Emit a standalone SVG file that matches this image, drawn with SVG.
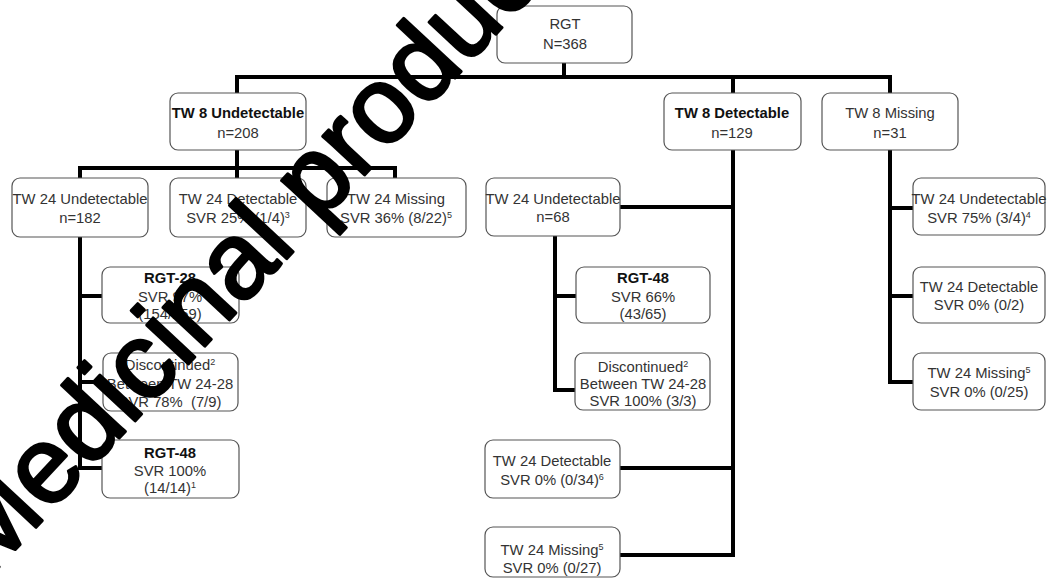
<svg xmlns="http://www.w3.org/2000/svg" width="1047" height="580" viewBox="0 0 1047 580">
<style>
.box{fill:#fff;stroke:#555;stroke-width:1.2}
.t{font-family:"Liberation Sans",Arial,sans-serif;font-size:14.8px;fill:#333;text-anchor:middle}
.b{font-weight:bold;fill:#111}
.sup{font-size:9px}
.c{stroke:#000;stroke-width:4;fill:none;stroke-linecap:square;stroke-linejoin:miter}
.wm{font-family:"Liberation Sans",Arial,sans-serif;font-size:108px;fill:#000;stroke:#000;stroke-width:3;stroke-linejoin:round}
</style>
<rect width="1047" height="580" fill="#fff"/>
<g id="connectors">
<path class="c" d="M564 63V77M237 77H890M237 77V93M733 77V93M890 77V93"/>
<path class="c" d="M237 150V168M80 168H395M80 168V178M237 168V178M395 168V178"/>
<path class="c" d="M80 237V468M80 296H102M80 382H103M80 468H102"/>
<path class="c" d="M733 150V555M620 207H733M620 468H733M620 555H733"/>
<path class="c" d="M555 236V390H575M555 296H576"/>
<path class="c" d="M890 150V382H913M890 208H913M890 296H913"/>
</g>
<g id="n-root"><rect class="box" x="497" y="6" width="135" height="57" rx="8"/><text class="t" x="565" y="29">RGT</text><text class="t" x="565" y="49">N=368</text></g>
<g id="n-tw8u"><rect class="box" x="170" y="93" width="136" height="57" rx="8"/><text class="t b" x="238" y="118">TW 8 Undetectable</text><text class="t" x="238" y="138">n=208</text></g>
<g id="n-tw8d"><rect class="box" x="664" y="93" width="137" height="57" rx="8"/><text class="t b" x="732" y="118">TW 8 Detectable</text><text class="t" x="732" y="138">n=129</text></g>
<g id="n-tw8m"><rect class="box" x="822" y="93" width="136" height="57" rx="8"/><text class="t" x="890" y="118">TW 8 Missing</text><text class="t" x="890" y="138">n=31</text></g>
<g id="n-l-tw24u"><rect class="box" x="12" y="178" width="136" height="59" rx="8"/><text class="t" x="80" y="204">TW 24 Undetectable</text><text class="t" x="80" y="223">n=182</text></g>
<g id="n-l-tw24d"><rect class="box" x="170" y="178" width="136" height="59" rx="8"/><text class="t" x="238" y="204">TW 24 Detectable</text><text class="t" x="238" y="223">SVR 25% (1/4)<tspan class="sup" dy="-5">3</tspan></text></g>
<g id="n-l-tw24m"><rect class="box" x="327" y="178" width="139" height="59" rx="8"/><text class="t" x="396" y="204">TW 24 Missing</text><text class="t" x="396" y="223">SVR 36% (8/22)<tspan class="sup" dy="-5">5</tspan></text></g>
<g id="n-l-rgt28"><rect class="box" x="102" y="267" width="137" height="56" rx="8"/><text class="t b" x="170" y="283">RGT-28</text><text class="t" x="170" y="302">SVR 97%</text><text class="t" x="170" y="319">(154/159)</text></g>
<g id="n-l-disc"><rect class="box" x="103" y="353" width="135" height="58" rx="8"/><text class="t" x="170" y="370">Discontinued<tspan class="sup" dy="-5">2</tspan></text><text class="t" x="170" y="389">Between TW 24-28</text><text class="t" x="170" y="407" xml:space="preserve">SVR 78%  (7/9)</text></g>
<g id="n-l-rgt48"><rect class="box" x="102" y="440" width="137" height="58" rx="8"/><text class="t b" x="170" y="458">RGT-48</text><text class="t" x="170" y="476">SVR 100%</text><text class="t" x="170" y="493">(14/14)<tspan class="sup" dy="-5">1</tspan></text></g>
<g id="n-m-tw24u"><rect class="box" x="486" y="178" width="134" height="58" rx="8"/><text class="t" x="553" y="204">TW 24 Undetectable</text><text class="t" x="553" y="222">n=68</text></g>
<g id="n-m-rgt48"><rect class="box" x="576" y="267" width="134" height="56" rx="8"/><text class="t b" x="643" y="283">RGT-48</text><text class="t" x="643" y="302">SVR 66%</text><text class="t" x="643" y="319">(43/65)</text></g>
<g id="n-m-disc"><rect class="box" x="575" y="353" width="135" height="57" rx="8"/><text class="t" x="643" y="372">Discontinued<tspan class="sup" dy="-5">2</tspan></text><text class="t" x="643" y="389">Between TW 24-28</text><text class="t" x="643" y="406">SVR 100% (3/3)</text></g>
<g id="n-m-tw24d"><rect class="box" x="485" y="440" width="135" height="58" rx="8"/><text class="t" x="552" y="466">TW 24 Detectable</text><text class="t" x="552" y="485">SVR 0% (0/34)<tspan class="sup" dy="-5">6</tspan></text></g>
<g id="n-m-tw24m"><rect class="box" x="485" y="527" width="135" height="50" rx="8"/><text class="t" x="552" y="555">TW 24 Missing<tspan class="sup" dy="-5">5</tspan></text><text class="t" x="552" y="573">SVR 0% (0/27)</text></g>
<g id="n-r-tw24u"><rect class="box" x="913" y="178" width="132" height="57" rx="8"/><text class="t" x="979" y="204">TW 24 Undetectable</text><text class="t" x="979" y="223">SVR 75% (3/4)<tspan class="sup" dy="-5">4</tspan></text></g>
<g id="n-r-tw24d"><rect class="box" x="913" y="267" width="132" height="56" rx="8"/><text class="t" x="979" y="292">TW 24 Detectable</text><text class="t" x="979" y="310">SVR 0% (0/2)</text></g>
<g id="n-r-tw24m"><rect class="box" x="913" y="353" width="132" height="57" rx="8"/><text class="t" x="979" y="378">TW 24 Missing<tspan class="sup" dy="-5">5</tspan></text><text class="t" x="979" y="397">SVR 0% (0/25)</text></g>
<text class="wm" transform="translate(-13,580) rotate(-47)">Medicinal product</text>
</svg>
